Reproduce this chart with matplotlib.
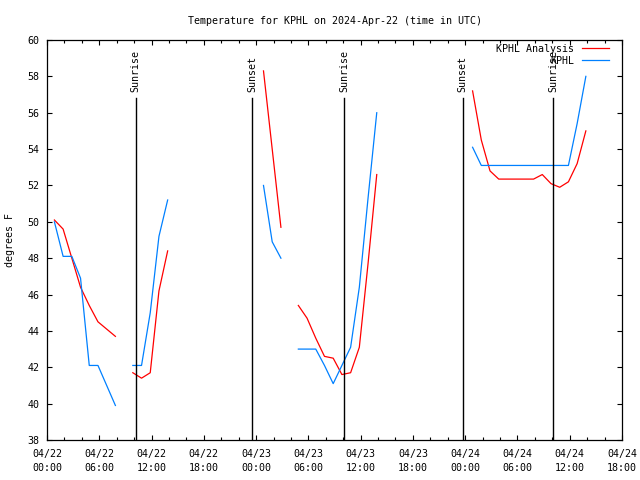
import matplotlib
matplotlib.use("Agg")
import matplotlib.pyplot as plt
import matplotlib.dates as mdates
import matplotlib.transforms as mtransforms
import numpy as np
import pandas as pd

plt.rcParams['font.family'] = ['DejaVu Sans Mono']
FS = 7.2

# ---- data ----
obs_times = [
    "2024-04-22 00:51", "2024-04-22 01:51", "2024-04-22 02:51", "2024-04-22 03:51",
    "2024-04-22 04:51", "2024-04-22 05:51", "2024-04-22 06:51", "2024-04-22 07:51",
    "2024-04-22 09:51", "2024-04-22 10:51", "2024-04-22 11:51", "2024-04-22 12:51",
    "2024-04-22 13:51",
    "2024-04-23 00:51", "2024-04-23 01:51", "2024-04-23 02:51",
    "2024-04-23 04:51", "2024-04-23 05:51", "2024-04-23 06:51", "2024-04-23 07:51",
    "2024-04-23 08:51", "2024-04-23 09:51", "2024-04-23 10:51", "2024-04-23 11:51",
    "2024-04-23 12:51", "2024-04-23 13:51",
    "2024-04-24 00:51", "2024-04-24 01:51", "2024-04-24 02:51", "2024-04-24 03:51",
    "2024-04-24 04:51", "2024-04-24 05:51", "2024-04-24 06:51", "2024-04-24 07:51",
    "2024-04-24 08:51", "2024-04-24 09:51", "2024-04-24 10:51", "2024-04-24 11:51",
    "2024-04-24 12:51", "2024-04-24 13:51",
]
kphl_analysis = [
    50.1, 49.6, 48.0, 46.4, 45.4, 44.5, 44.1, 43.7,
    41.7, 41.4, 41.7, 46.2, 48.4,
    58.3, 54.0, 49.7,
    45.4, 44.7, 43.6, 42.6, 42.5, 41.6, 41.7, 43.1, 47.7, 52.6,
    57.2, 54.5, 52.8, 52.35, 52.35, 52.35, 52.35, 52.35, 52.6, 52.1, 51.9, 52.2, 53.2, 55.0,
]
kphl = [
    50.0, 48.1, 48.1, 46.9, 42.1, 42.1, 41.0, 39.9,
    42.1, 42.1, 45.0, 49.2, 51.2,
    52.0, 48.9, 48.0,
    43.0, 43.0, 43.0, 42.1, 41.1, 42.1, 43.1, 46.4, 51.3, 56.0,
    54.1, 53.1, 53.1, 53.1, 53.1, 53.1, 53.1, 53.1, 53.1, 53.1, 53.1, 53.1, 55.4, 58.0,
]
sun_times = ["2024-04-22 10:11", "2024-04-22 23:34", "2024-04-23 10:08",
             "2024-04-23 23:44", "2024-04-24 10:06"]
sun_labels = ["Sunrise", "Sunset", "Sunrise", "Sunset", "Sunrise"]
series_labels = ["KPHL Analysis", "KPHL"]
title = "Temperature for KPHL on 2024-Apr-22 (time in UTC)"
ylabel = "degrees F"


def with_gaps(times, values, max_gap_h=1.5):
    t = pd.to_datetime(pd.Series(times))
    out_t, out_v = [], []
    for i in range(len(t)):
        if i > 0 and (t[i] - t[i - 1]) > pd.Timedelta(hours=max_gap_h):
            out_t.append(t[i - 1] + pd.Timedelta(minutes=30))
            out_v.append(np.nan)
        out_t.append(t[i])
        out_v.append(values[i])
    return out_t, out_v


fig = plt.figure(figsize=(6.4, 4.8), dpi=100)
ax = fig.add_axes([47 / 640, 40 / 480, 575 / 640, 400 / 480])

t_a, v_a = with_gaps(obs_times, kphl_analysis)
t_k, v_k = with_gaps(obs_times, kphl)
l1, = ax.plot(t_a, v_a, color='#ff0000', lw=0.9, label=series_labels[0])
l2, = ax.plot(t_k, v_k, color='#0080ff', lw=0.9, label=series_labels[1])

trans = mtransforms.blended_transform_factory(ax.transData, ax.transAxes)
for st, lab in zip(sun_times, sun_labels):
    ts = pd.Timestamp(st)
    ax.axvline(ts, ymin=0, ymax=0.855, color='black', lw=1.0)
    ax.text(ts, 0.87, lab, rotation=90, transform=trans, ha='center', va='bottom',
            fontsize=FS)

ax.set_xlim(pd.Timestamp("2024-04-22 00:00"), pd.Timestamp("2024-04-24 18:00"))
ax.set_ylim(38, 60)
ax.set_yticks(np.arange(38, 61, 2))
ax.xaxis.set_major_locator(mdates.HourLocator(byhour=[0, 6, 12, 18]))
ax.xaxis.set_minor_locator(mdates.HourLocator(byhour=range(0, 24, 2)))
ax.xaxis.set_major_formatter(mdates.DateFormatter('%m/%d\n%H:%M'))
ax.tick_params(which='both', direction='in', top=True, right=True, labelsize=FS,
               width=0.8)
ax.tick_params(which='major', length=3.5)
ax.tick_params(which='minor', length=2.0)
ax.tick_params(axis='x', pad=6.5)
ax.tick_params(axis='y', pad=5.5)
for lbl in ax.get_xticklabels():
    lbl.set_linespacing(1.5)
for sp in ax.spines.values():
    sp.set_linewidth(0.9)

fig.text(334.5 / 640, 1 - 20.5 / 480, title, ha='center', va='center', fontsize=FS)
fig.text(10 / 640, 0.5, ylabel, rotation=90, ha='center', va='center', fontsize=FS)

ax.legend(handles=[l1, l2], loc='upper right', bbox_to_anchor=(609 / 640, 1 - 43.5 / 480),
          bbox_transform=fig.transFigure, frameon=False, markerfirst=False,
          handlelength=2.7, handletextpad=0.8, borderpad=0, borderaxespad=0,
          labelspacing=0.2, fontsize=FS)

fig.savefig("out.png", dpi=100)
